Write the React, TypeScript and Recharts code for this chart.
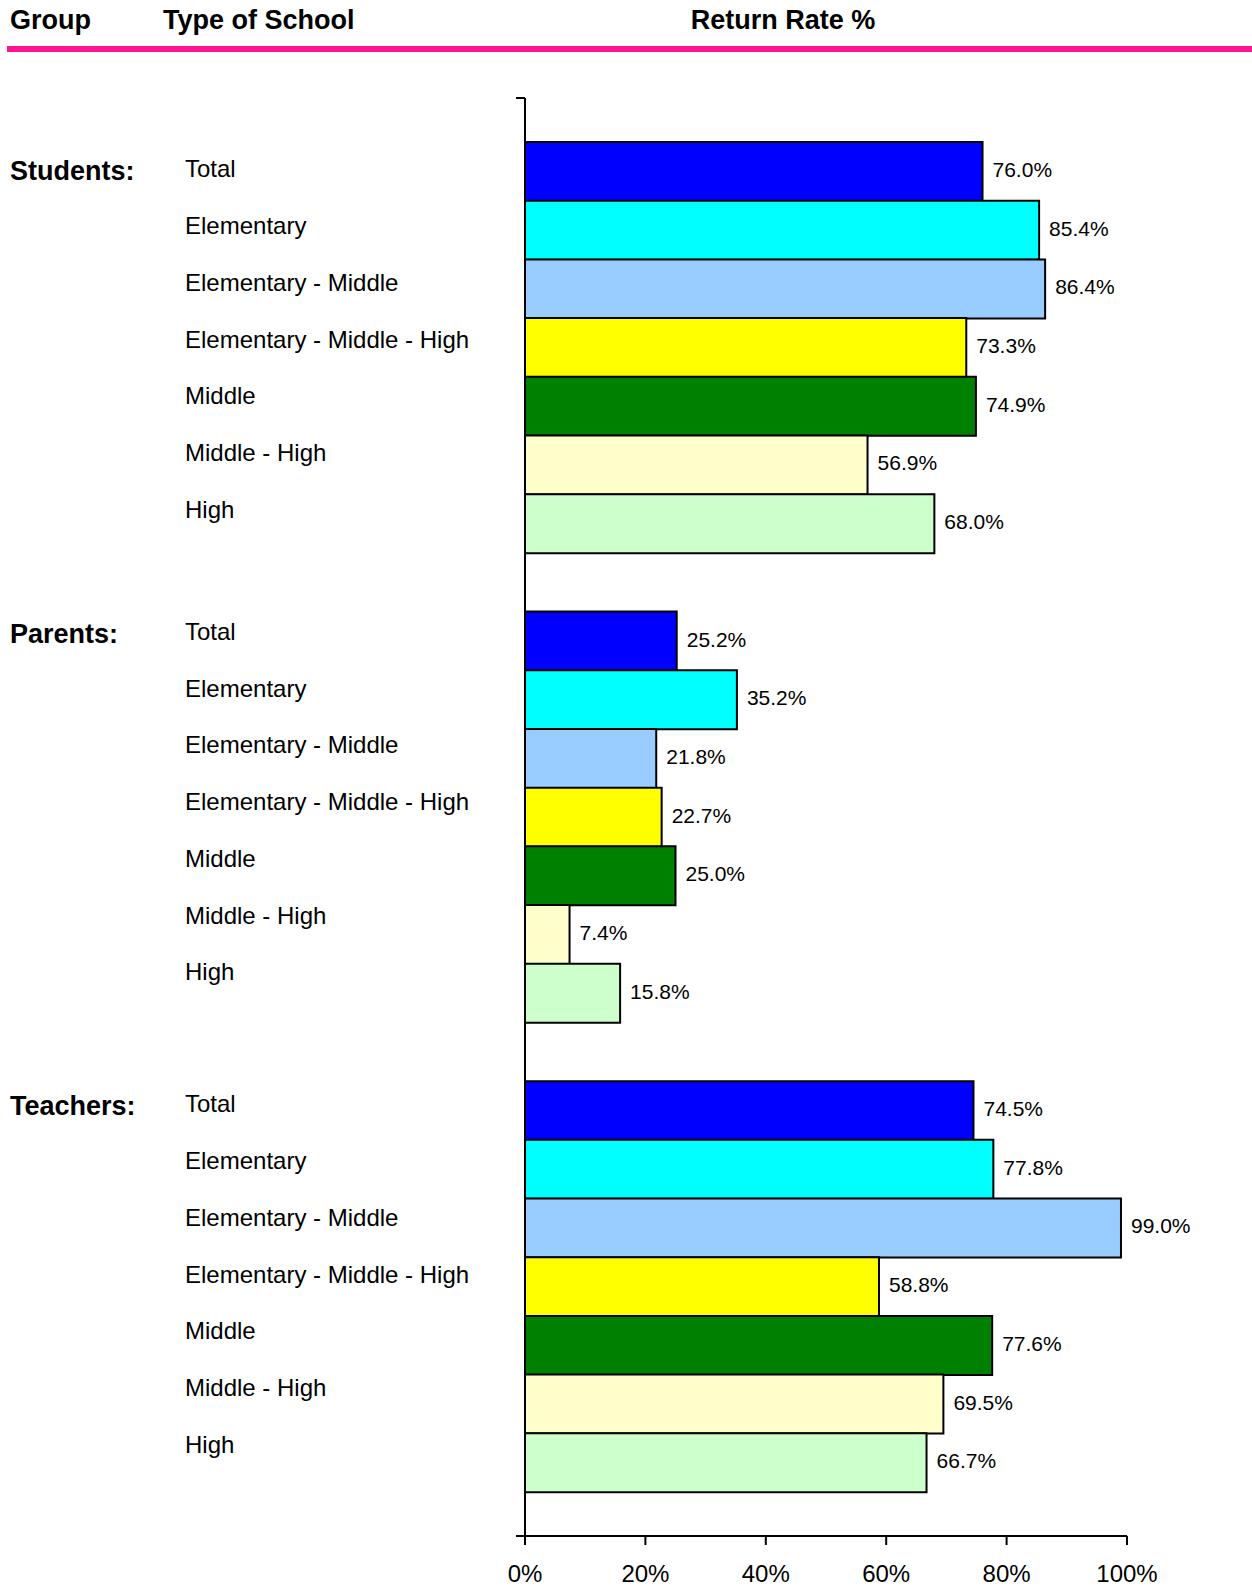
import React from 'react';
import { BarChart, Bar, XAxis, YAxis, Cell, LabelList, usePlotArea } from 'recharts';

const groups = ['Students:', 'Parents:', 'Teachers:'];
const schoolTypes = [
  'Total',
  'Elementary',
  'Elementary - Middle',
  'Elementary - Middle - High',
  'Middle',
  'Middle - High',
  'High',
];
const studentsRates = [76.0, 85.4, 86.4, 73.3, 74.9, 56.9, 68.0];
const parentsRates = [25.2, 35.2, 21.8, 22.7, 25.0, 7.4, 15.8];
const teachersRates = [74.5, 77.8, 99.0, 58.8, 77.6, 69.5, 66.7];
const typeColors = ['#0000FF', '#00FFFF', '#99CCFF', '#FFFF00', '#008000', '#FFFFCC', '#CCFFCC'];
const xTicks = [0, 20, 40, 60, 80, 100];

const FONT = '"Liberation Sans", Arial, Helvetica, sans-serif';
// small per-group vertical nudges for the left-hand text labels
const GROUP_LABEL_NUDGE = [6, -1, 2];

type Row = { key: string; group?: string; groupIdx?: number; type?: string; typeIdx?: number; value: number | null; color?: string };

const seriesByGroup = [studentsRates, parentsRates, teachersRates];
const rows: Row[] = [];
groups.forEach((g, gi) => {
  if (gi > 0) rows.push({ key: `gap-${gi}`, value: null });
  schoolTypes.forEach((t, ti) => {
    rows.push({ key: `${g}-${t}`, group: g, groupIdx: gi, type: t, typeIdx: ti, value: seriesByGroup[gi][ti], color: typeColors[ti] });
  });
});

const LeftTick = (props: any) => {
  const { y, payload } = props;
  const row = rows.find((r) => r.key === payload.value);
  if (!row || row.type === undefined) return null;
  const base = y + GROUP_LABEL_NUDGE[row.groupIdx as number] - 1.95 * (row.typeIdx as number);
  return (
    <g>
      <text x={185} y={base} fontSize={24} fontFamily={FONT} fill="#000">
        {row.type}
      </text>
      {row.typeIdx === 0 && (
        <text x={10} y={base + 3} fontSize={27} fontWeight="bold" fontFamily={FONT} fill="#000">
          {row.group}
        </text>
      )}
    </g>
  );
};

const EndTicks = () => {
  const area = usePlotArea();
  if (!area) return null;
  return (
    <g>
      <line x1={area.x - 9} x2={area.x} y1={area.y} y2={area.y} stroke="#000" strokeWidth={2} />
      <line x1={area.x - 9} x2={area.x} y1={area.y + area.height} y2={area.y + area.height} stroke="#000" strokeWidth={2} />
    </g>
  );
};

export default function App() {
  return (
    <div style={{ position: 'absolute', left: 0, top: 0, width: 1252, height: 1587, background: '#fff' }}>
      <svg width={1252} height={70} style={{ position: 'absolute', left: 0, top: 0 }}>
        <text x={10} y={29} fontSize={27} fontWeight="bold" fontFamily={FONT} fill="#000">Group</text>
        <text x={163} y={29} fontSize={27} fontWeight="bold" fontFamily={FONT} fill="#000">Type of School</text>
        <text x={783} y={29} fontSize={27} fontWeight="bold" fontFamily={FONT} fill="#000" textAnchor="middle">Return Rate %</text>
        <rect x={7} y={46} width={1245} height={6} fill="#FF1493" />
      </svg>
      <div style={{ position: 'absolute', left: 0, top: 0 }}>
        <BarChart
          width={1252}
          height={1587}
          data={rows}
          layout="vertical"
          margin={{ top: 98, right: 125, bottom: 0, left: 0 }}
          barCategoryGap={0}
        >
          <XAxis
            type="number"
            domain={[0, 100]}
            ticks={xTicks}
            tickFormatter={(v: number) => `${v}%`}
            height={51}
            tickSize={9}
            tickMargin={20}
            axisLine={{ stroke: '#000', strokeWidth: 2 }}
            tickLine={{ stroke: '#000', strokeWidth: 2 }}
            tick={{ fontSize: 24, fill: '#000', fontFamily: FONT }}
            interval={0}
          />
          <YAxis
            type="category"
            dataKey="key"
            width={525}
            padding={{ top: 44, bottom: 44 }}
            axisLine={{ stroke: '#000', strokeWidth: 2 }}
            tickLine={false}
            tick={<LeftTick />}
            interval={0}
          />
          <Bar dataKey="value" isAnimationActive={false} stroke="#000" strokeWidth={2}>
            {rows.map((r) => (
              <Cell key={r.key} fill={r.color || 'none'} />
            ))}
            <LabelList
              dataKey="value"
              position="right"
              offset={10}
              dy={-2}
              fontSize={21}
              fill="#000"
              fontFamily={FONT}
              formatter={(v: any) => (v === null || v === undefined ? '' : `${Number(v).toFixed(1)}%`)}
            />
          </Bar>
          <EndTicks />
        </BarChart>
      </div>
    </div>
  );
}
